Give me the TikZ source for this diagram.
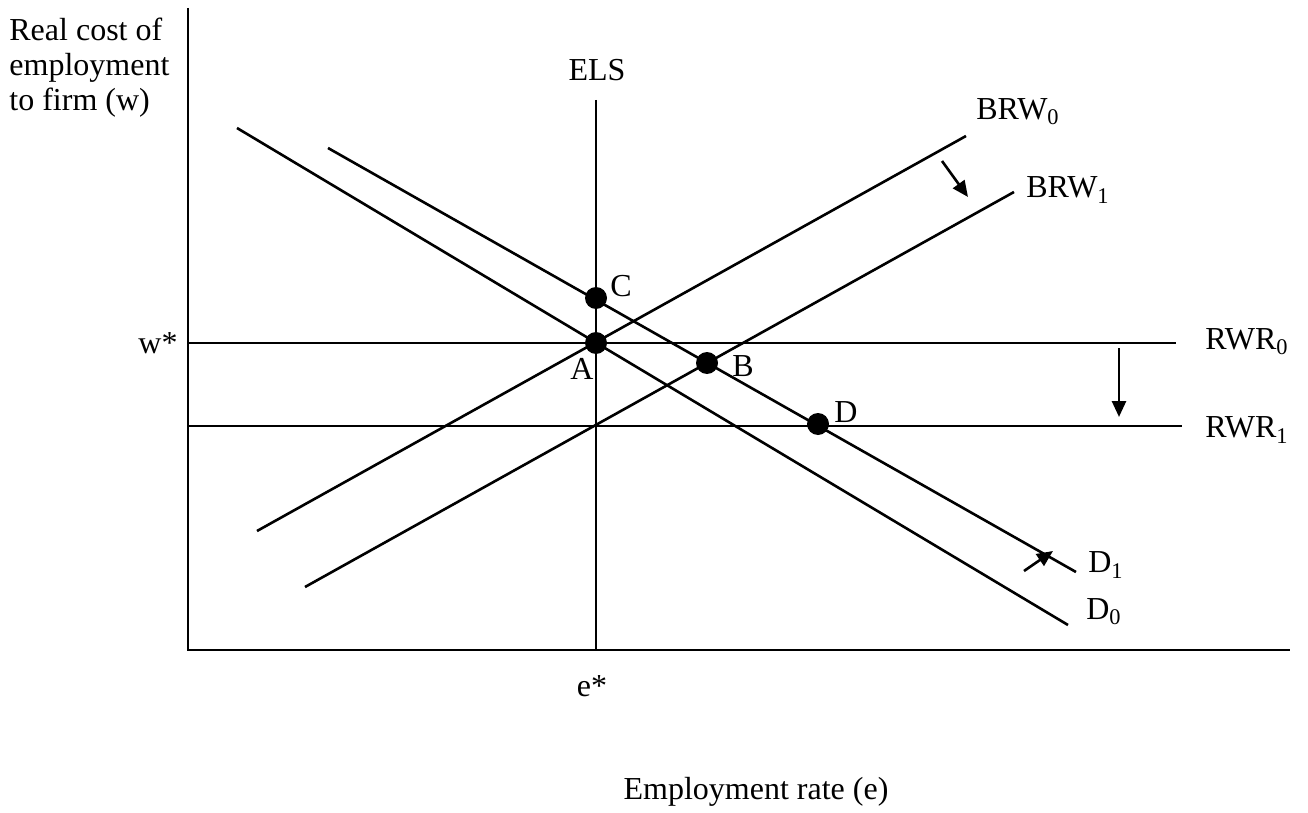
\documentclass[tikz,border=0pt]{standalone}
\usepackage{fontspec}
\setmainfont{Liberation Serif}
\usetikzlibrary{arrows.meta, positioning}

\begin{document}
\begin{tikzpicture}[
  x=0.5pt, y=-0.5pt,
  line/.style={line width=1.3pt},
  dot/.style={circle, fill, inner sep=0pt, minimum size=11pt},
  lbl/.style={font=\fontsize{16}{17.5}\selectfont, inner sep=1pt},
  shiftarrow/.style={-{Triangle[length=8pt, width=7pt]}, line width=1.3pt}
]
\useasboundingbox (0,0) rectangle (1308,813);

% axes
\coordinate (origin) at (188,650);
\coordinate (ytop) at (188,8);
\coordinate (xend) at (1290,650);
\draw[line] (ytop) -- (origin) -- (xend);

% curve end points
\coordinate (elstop) at (596,100);
\coordinate (elsbot) at (596,650);
\coordinate (rwr0a) at (188,343);
\coordinate (rwr0b) at (1176,343);
\coordinate (rwr1a) at (188,426);
\coordinate (rwr1b) at (1182,426);
\coordinate (brw0a) at (257,531);
\coordinate (brw0b) at (966,136);
\coordinate (brw1a) at (305,587);
\coordinate (brw1b) at (1014,192);
\coordinate (d0a) at (237,128);
\coordinate (d0b) at (1068,625);
\coordinate (d1a) at (328,148);
\coordinate (d1b) at (1076,572);

\draw[line] (elstop) -- (elsbot);
\draw[line] (rwr0a) -- (rwr0b);
\draw[line] (rwr1a) -- (rwr1b);
\draw[line] (brw0a) -- (brw0b);
\draw[line] (brw1a) -- (brw1b);
\draw[line] (d0a) -- (d0b);
\draw[line] (d1a) -- (d1b);

% equilibrium points
\node[dot] (ptC) at (596,298) {};
\node[dot] (ptA) at (596,343) {};
\node[dot] (ptB) at (707,363) {};
\node[dot] (ptD) at (818,424) {};
\node[lbl] (labC) at (621,286) {C};
\node[lbl] (labA) at (582,369) {A};
\node[lbl] (labB) at (743,366) {B};
\node[lbl] (labD) at (846,412) {D};

% curve labels
\node[lbl] (els) at (597,70) {ELS};
\node[lbl] (wstar) at (158,343) {w*};
\node[lbl] (estar) at (592,686) {e*};
\node[lbl] (xlabel) at (756,792) {Employment rate (e)};
\node[lbl, anchor=north west, align=left, inner sep=0pt] (ylabel) at (9,18) {Real cost of\\employment\\to firm (w)};
\node[lbl] (brw0) at (1018,112) {BRW\textsubscript{0}};
\node[lbl] (brw1) at (1068,190) {BRW\textsubscript{1}};
\node[lbl] (rwr0) at (1247,342) {RWR\textsubscript{0}};
\node[lbl] (rwr1) at (1247,430) {RWR\textsubscript{1}};
\node[lbl] (d1) at (1106,565) {D\textsubscript{1}};
\node[lbl] (d0) at (1104,612) {D\textsubscript{0}};

% shifts
\coordinate (brwfrom) at (942,161);
\coordinate (brwto) at (968,197);
\coordinate (rwrfrom) at (1119,348);
\coordinate (rwrto) at (1119,417);
\coordinate (dfrom) at (1024,571);
\coordinate (dto) at (1053,551);
\draw[shiftarrow] (brwfrom) -- (brwto);
\draw[shiftarrow] (rwrfrom) -- (rwrto);
\draw[shiftarrow] (dfrom) -- (dto);

\end{tikzpicture}
\end{document}
